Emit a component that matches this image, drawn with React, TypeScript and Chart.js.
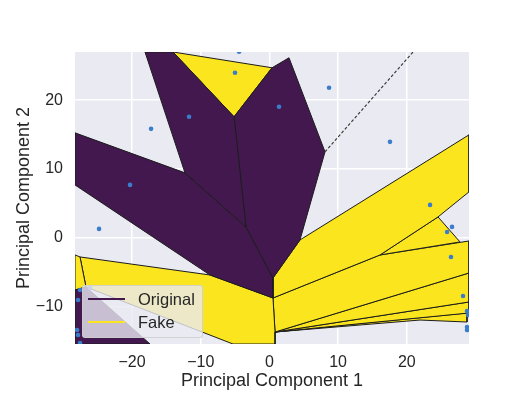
import { useEffect, useRef } from "react";
import { Chart, registerables } from "chart.js";

Chart.register(...registerables);

type Pt = [number, number];

// Axis ranges and tick labels
const xRange: Pt = [-28.3, 29.05];
const yRange: Pt = [-15.4, 27.0];
const xTickValues = [-20, -10, 0, 10, 20];
const yTickValues = [-10, 0, 10, 20];
const xTitle = "Principal Component 1";
const yTitle = "Principal Component 2";
const legendLabels = ["Original", "Fake"];

// Voronoi cells of the "Original" class (purple)
const originalPetalA: Pt[] = [[-18.11, 27.0], [-14.03, 27.0], [-5.15, 17.59], [-3.41, 1.6], [-12.29, 9.45]];
const originalPetalB: Pt[] = [[-5.15, 17.59], [0.38, 24.71], [2.85, 26.16], [8.09, 12.5], [4.45, -0.29], [0.52, -5.81], [-3.41, 1.6]];
const originalLeftBand: Pt[] = [[-28.3, 15.26], [-12.29, 9.45], [-3.41, 1.6], [0.52, -5.81], [0.52, -8.72], [-8.65, -5.38], [-28.3, 7.7]];
const originalBottomLeft: Pt[] = [[-28.3, -7.56], [-26.7, -7.12], [-17.38, -15.4], [-28.3, -15.4]];

// Voronoi cells of the "Fake" class (yellow)
const fakeTopTriangle: Pt[] = [[-14.03, 27.0], [0.38, 24.71], [-5.15, 17.59]];
const fakeLeftStrip: Pt[] = [[-28.3, -2.47], [-27.57, -2.76], [-26.7, -7.12], [-28.3, -7.56]];
const fakeLowerLeft: Pt[] = [[-27.57, -2.76], [-8.65, -5.38], [0.52, -8.72], [0.82, -13.66], [0.82, -15.4], [-5.3, -15.4], [-26.7, -7.12]];
const fakeFan1: Pt[] = [[0.52, -5.81], [4.45, -0.29], [29.05, 14.97], [29.05, 6.69], [24.54, 3.05], [16.1, -2.47], [0.52, -8.72]];
const fakeFan2: Pt[] = [[16.1, -2.47], [24.54, 3.05], [27.74, -0.58]];
const fakeFan3: Pt[] = [[0.52, -8.72], [16.1, -2.47], [29.05, -0.44], [29.05, -5.09], [0.82, -13.66]];
const fakeFan4: Pt[] = [[0.82, -13.66], [29.05, -5.09], [29.05, -9.3]];
const fakeFan5: Pt[] = [[0.82, -13.66], [29.05, -9.3], [29.05, -10.9]];
const fakeFan6: Pt[] = [[0.82, -13.66], [28.76, -10.9], [28.76, -12.21], [21.92, -11.92]];

// Unbounded ridge (dashed)
const dashedRidge: Pt[] = [[8.09, 12.5], [20.9, 27.0]];

// Voronoi sites (blue dots)
const siteX = [-4.42, -5.01, -11.7, -17.23, -20.29, -24.8, 1.4, 8.68, 17.55, 23.38, 26.58, 25.86, 26.43, 28.18, 28.76, 28.91, 28.76, 28.76, -26.11, -27.57, -27.86, -28.0, -27.86, -27.57];
const siteY = [27.03, 23.98, 17.59, 15.84, 7.7, 1.31, 19.04, 21.8, 13.95, 4.8, 1.6, 0.87, -2.76, -8.43, -10.61, -11.19, -12.94, -13.37, -7.27, -7.56, -9.01, -13.37, -14.1, -15.26];

const originalCells = [originalPetalA, originalPetalB, originalLeftBand, originalBottomLeft];
const fakeCells = [fakeTopTriangle, fakeLeftStrip, fakeLowerLeft, fakeFan1, fakeFan2, fakeFan3, fakeFan4, fakeFan5, fakeFan6];

const PURPLE = "#43184f";
const YELLOW = "#fae51e";
const LAVENDER = "#eaeaf2";
const DOT = "#3a7dcb";
const TEXT = "#262626";
const FONT = "'Liberation Sans', Arial, sans-serif";

const fmt = (v: number) => (v < 0 ? "\u2212" + Math.abs(v) : String(v));

const cellDataset = (cell: Pt[], color: string) => ({
  data: [...cell, cell[0]].map(([x, y]) => ({ x, y })),
  showLine: true,
  fill: "shape",
  backgroundColor: color,
  borderColor: "#1c1c1c",
  borderWidth: 1,
  pointRadius: 0,
  tension: 0,
  order: 2,
});

const bgPlugin = {
  id: "bgPlugin",
  beforeDraw(chart: any) {
    const { ctx, chartArea: a, width, height } = chart;
    ctx.save();
    ctx.fillStyle = "#ffffff";
    ctx.fillRect(0, 0, width, height);
    ctx.fillStyle = LAVENDER;
    ctx.fillRect(a.left, a.top, a.right - a.left, a.bottom - a.top);
    ctx.restore();
  },
};

export default function App() {
  const ref = useRef<HTMLCanvasElement | null>(null);

  useEffect(() => {
    if (!ref.current) return;
    const datasets: any[] = [
      ...originalCells.map((c) => cellDataset(c, PURPLE)),
      ...fakeCells.map((c) => cellDataset(c, YELLOW)),
      {
        data: dashedRidge.map(([x, y]) => ({ x, y })),
        showLine: true,
        fill: false,
        borderColor: "#3a3a3a",
        borderWidth: 1.2,
        borderDash: [3, 2],
        pointRadius: 0,
        order: 1,
      },
      {
        data: siteX.map((x, i) => ({ x, y: siteY[i] })),
        showLine: false,
        pointRadius: 2.3,
        pointBackgroundColor: DOT,
        pointBorderWidth: 0,
        order: 0,
      },
    ];
    const chart = new Chart(ref.current, {
      type: "scatter",
      data: { datasets },
      plugins: [bgPlugin],
      options: {
        animation: false,
        responsive: true,
        maintainAspectRatio: false,
        events: [],
        layout: { padding: { left: 0, right: 45, top: 52, bottom: 0 } },
        plugins: { legend: { display: false }, tooltip: { enabled: false } },
        scales: {
          x: {
            type: "linear",
            min: xRange[0],
            max: xRange[1],
            afterBuildTicks: (s: any) => {
              s.ticks = xTickValues.map((v) => ({ value: v }));
            },
            afterFit: (s: any) => {
              s.height = 49;
            },
            ticks: { color: TEXT, font: { family: FONT, size: 16 }, padding: 9, autoSkip: false, maxRotation: 0, callback: (v: any) => fmt(Number(v)) },
            grid: { color: "#ffffff", lineWidth: 1.5, drawTicks: false },
            border: { display: false },
            title: { display: true, text: xTitle, color: TEXT, font: { family: FONT, size: 18 }, padding: { top: 0, bottom: 1 } },
          },
          y: {
            type: "linear",
            min: yRange[0],
            max: yRange[1],
            afterBuildTicks: (s: any) => {
              s.ticks = yTickValues.map((v) => ({ value: v }));
            },
            afterFit: (s: any) => {
              s.width = 75;
            },
            ticks: { color: TEXT, font: { family: FONT, size: 16 }, padding: 12, autoSkip: false, callback: (v: any) => fmt(Number(v)) },
            grid: { color: "#ffffff", lineWidth: 1.5, drawTicks: false },
            border: { display: false },
            title: { display: true, text: yTitle, color: TEXT, font: { family: FONT, size: 18 }, padding: { top: 13.5, bottom: 0 } },
          },
        },
      } as any,
    });
    return () => chart.destroy();
  }, []);

  const legendColors = [PURPLE, YELLOW];

  return (
    <div style={{ position: "fixed", left: 0, top: 0, width: 514, height: 393, background: "#fff" }}>
      <canvas ref={ref} />
      <div
        style={{
          position: "absolute",
          left: 82,
          top: 285,
          width: 121,
          height: 53,
          boxSizing: "border-box",
          background: "rgba(234,234,242,0.8)",
          border: "1px solid rgba(204,204,204,0.8)",
          borderRadius: 3,
          fontFamily: FONT,
          fontSize: 16.5,
          color: TEXT,
        }}
      >
        {legendLabels.map((label, i) => (
          <div key={label} style={{ position: "absolute", left: 0, top: 13 + i * 23 - 10, height: 20, width: "100%" }}>
            <div style={{ position: "absolute", left: 5, top: 9, width: 37, height: 2, background: legendColors[i] }} />
            <div style={{ position: "absolute", left: 55, top: 0, lineHeight: "20px", whiteSpace: "nowrap" }}>{label}</div>
          </div>
        ))}
      </div>
    </div>
  );
}
